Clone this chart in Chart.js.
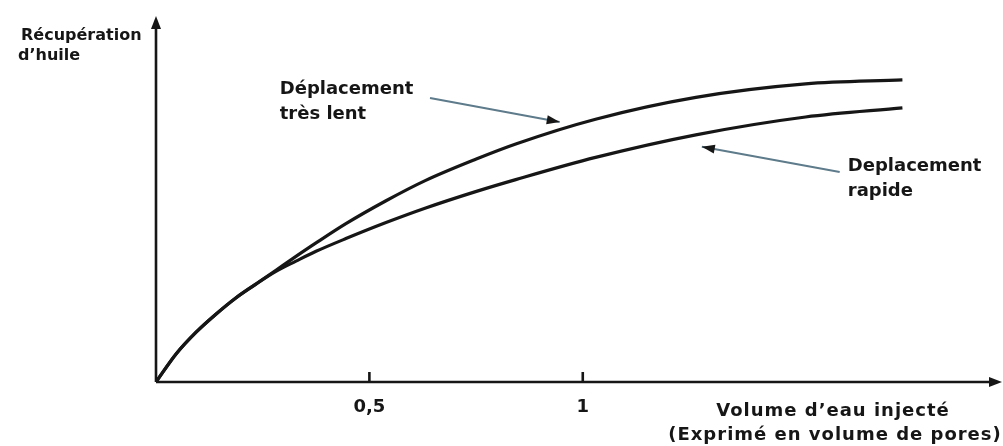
<!DOCTYPE html>
<html lang="fr">
<head>
<meta charset="UTF-8">
<title>Récupération d'huile</title>
<script src="https://cdn.jsdelivr.net/npm/chart.js"></script>
<style>
  html, body { margin: 0; padding: 0; background: #fff; }
  #zone { width: 1003px; height: 446px; }
</style>
</head>
<body>
<div id="zone"><canvas id="grafico" width="1003" height="446"></canvas></div>
<script>
// valeurs (volume injecté en volumes de pores, récupération en unités relatives)
const volumeInjecte = [0, 0.047, 0.094, 0.141, 0.187, 0.234, 0.281, 0.328, 0.375, 0.445, 0.539, 0.632, 0.749, 0.843, 1.030, 1.265, 1.522, 1.749];
const recupLent     = [0, 7.7, 13.7, 18.7, 23.1, 26.9, 30.7, 34.5, 38.2, 43.5, 49.8, 55.4, 61.2, 65.4, 72.2, 78.2, 81.9, 83.0];
const recupRapide   = [0, 7.7, 13.7, 18.7, 23.1, 26.9, 30.4, 33.2, 35.9, 39.4, 43.8, 47.8, 52.3, 55.6, 61.7, 67.9, 72.8, 75.3];
const ticksVolume   = [0.5, 1];

const nomLent   = ['Déplacement', 'très lent'];
const nomRapide = ['Deplacement', 'rapide'];
const titreY    = ['Récupération', 'd’huile'];
const titreX    = ['Volume d’eau injecté', '(Exprimé en volume de pores)'];

const encre = '#161616';
const police = '"DejaVu Sans", sans-serif';

function pointes(ctx, x1, y1, x2, y2, long, larg) {
    const ang = Math.atan2(y2 - y1, x2 - x1);
    ctx.beginPath();
    ctx.moveTo(x2, y2);
    ctx.lineTo(x2 - long * Math.cos(ang) + larg * Math.sin(ang), y2 - long * Math.sin(ang) - larg * Math.cos(ang));
    ctx.lineTo(x2 - long * Math.cos(ang) - larg * Math.sin(ang), y2 - long * Math.sin(ang) + larg * Math.cos(ang));
    ctx.closePath();
    ctx.fill();
}

const axesFleches = {
    id: 'axesFleches',
    beforeDatasetsDraw(chart) {
        const ctx = chart.ctx;
        const sx = chart.scales.x, sy = chart.scales.y;
        const x0 = sx.getPixelForValue(0), y0 = sy.getPixelForValue(0);
        ctx.save();
        ctx.strokeStyle = encre;
        ctx.fillStyle = encre;
        ctx.lineWidth = 2.6;
        // axe horizontal
        ctx.beginPath();
        ctx.moveTo(x0, y0);
        ctx.lineTo(chart.width - 6, y0);
        ctx.stroke();
        pointes(ctx, x0, y0, chart.width - 1, y0, 13, 5);
        // axe vertical
        ctx.beginPath();
        ctx.moveTo(x0, y0);
        ctx.lineTo(x0, sy.top + 6);
        ctx.stroke();
        pointes(ctx, x0, y0, x0, sy.top - 2, 13, 5);
        // graduations
        ticksVolume.forEach(v => {
            const px = sx.getPixelForValue(v);
            ctx.beginPath();
            ctx.moveTo(px, y0);
            ctx.lineTo(px, y0 - 10);
            ctx.stroke();
        });
        ctx.restore();
    },
    afterDraw(chart) {
        const ctx = chart.ctx;
        const sx = chart.scales.x, sy = chart.scales.y;
        const x0 = sx.getPixelForValue(0);
        ctx.save();
        ctx.fillStyle = encre;
        ctx.textBaseline = 'alphabetic';

        // titre axe vertical
        ctx.font = 'bold 16px ' + police;
        ctx.textAlign = 'left';
        ctx.fillText(titreY[0], x0 - 135, 40);
        ctx.fillText(titreY[1], x0 - 138, 60);

        // titre axe horizontal
        ctx.font = 'bold 18px ' + police;
        ctx.letterSpacing = '1px';
        ctx.textAlign = 'center';
        ctx.fillText(titreX[0], 833, 416);
        ctx.fillText(titreX[1], 835, 440);
        ctx.letterSpacing = '0px';

        // étiquettes des courbes
        ctx.font = 'bold 18px ' + police;
        ctx.textAlign = 'left';
        ctx.fillText(nomLent[0], sx.getPixelForValue(0.290), sy.getPixelForValue(79.0));
        ctx.fillText(nomLent[1], sx.getPixelForValue(0.290), sy.getPixelForValue(72.2));
        ctx.fillText(nomRapide[0], sx.getPixelForValue(1.621), sy.getPixelForValue(58.0));
        ctx.fillText(nomRapide[1], sx.getPixelForValue(1.621), sy.getPixelForValue(51.2));

        // flèches de rappel
        const fleches = [
            [0.642, 78.0, 0.946, 71.4],
            [1.602, 57.7, 1.279, 64.6]
        ];
        fleches.forEach(f => {
            const ax = sx.getPixelForValue(f[0]), ay = sy.getPixelForValue(f[1]);
            const bx = sx.getPixelForValue(f[2]), by = sy.getPixelForValue(f[3]);
            ctx.strokeStyle = '#5d7b8a';
            ctx.lineWidth = 2;
            ctx.beginPath();
            ctx.moveTo(ax, ay);
            ctx.lineTo(bx, by);
            ctx.stroke();
            ctx.fillStyle = encre;
            pointes(ctx, ax, ay, bx, by, 13, 4.5);
        });
        ctx.restore();
    }
};

const serie = (ys) => volumeInjecte.map((x, i) => ({ x: x, y: ys[i] }));

new Chart(document.getElementById('grafico'), {
    type: 'scatter',
    data: {
        datasets: [{
            label: nomLent.join(' '),
            data: serie(recupLent),
            showLine: true,
            borderColor: encre,
            borderWidth: 3.2,
            pointRadius: 0,
            cubicInterpolationMode: 'monotone'
        }, {
            label: nomRapide.join(' '),
            data: serie(recupRapide),
            showLine: true,
            borderColor: encre,
            borderWidth: 3.2,
            pointRadius: 0,
            cubicInterpolationMode: 'monotone'
        }]
    },
    options: {
        responsive: false,
        animation: false,
        layout: { padding: { left: 156, right: 2, top: 18, bottom: 0 } },
        plugins: { legend: { display: false }, tooltip: { enabled: false } },
        scales: {
            x: {
                type: 'linear',
                min: 0,
                max: 1.98,
                grid: { display: false, drawTicks: false },
                border: { display: false },
                afterBuildTicks: axis => { axis.ticks = ticksVolume.map(v => ({ value: v })); },
                afterFit: s => { s.height = 64; },
                ticks: {
                    padding: 15,
                    color: encre,
                    font: { family: police, size: 18, weight: 'bold' },
                    callback: v => String(v).replace('.', ',')
                }
            },
            y: {
                display: false,
                min: 0,
                max: 100
            }
        }
    },
    plugins: [axesFleches]
});
</script>
</body>
</html>
